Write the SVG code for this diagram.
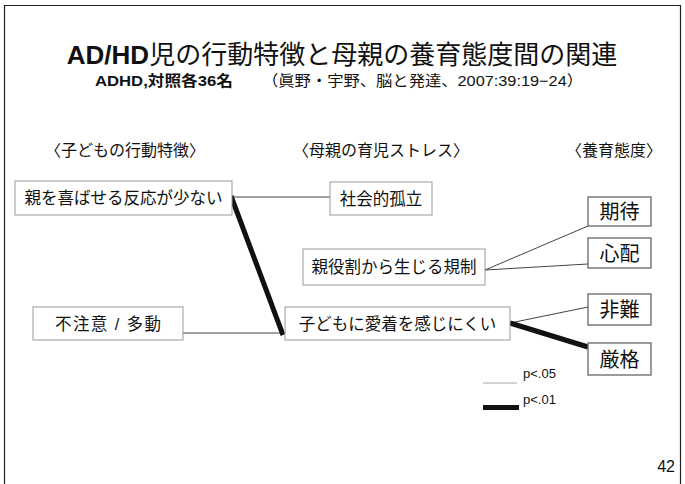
<svg xmlns="http://www.w3.org/2000/svg" width="685" height="484" viewBox="0 0 685 484">
<style>
text{font-family:"Liberation Sans","Noto Sans CJK JP",sans-serif;fill:#111}
.box{fill:#fff;stroke:#999;stroke-width:1}
.box2{fill:#fff;stroke:#666;stroke-width:1.3}
.lbl{font-size:16.5px;text-anchor:middle}
.lbl2{font-size:20px;text-anchor:middle}
.hdr{font-size:16px}
.thin{stroke:#444;stroke-width:1;fill:none}
.thick{stroke:#111;stroke-width:5;fill:none}
</style>
<rect width="685" height="484" fill="#fff"/>
<path d="M4.5,490 V5.5 H680.5 V490" fill="none" stroke="#222" stroke-width="1.2"/>
<g id="title">
<text x="342" y="64" font-size="26" text-anchor="middle"><tspan font-weight="bold">AD/HD</tspan>児の行動特徴と母親の養育態度間の関連</text>
<text x="95" y="86" font-size="15" font-weight="bold" textLength="138" lengthAdjust="spacingAndGlyphs">ADHD,対照各36名</text>
<text x="262" y="86" font-size="15" textLength="321" lengthAdjust="spacingAndGlyphs">（眞野・宇野、脳と発達、2007:39:19−24）</text>
</g>
<g id="headers">
<text class="hdr" x="45" y="156">〈子どもの行動特徴〉</text>
<text class="hdr" x="293" y="156">〈母親の育児ストレス〉</text>
<text class="hdr" x="566" y="156">〈養育態度〉</text>
</g>
<g id="connectors">
<line class="thin" x1="232" y1="197" x2="330" y2="197"/>
<line class="thin" x1="183" y1="333" x2="285" y2="333"/>
<line class="thin" x1="485" y1="270" x2="588" y2="226"/>
<line class="thin" x1="485" y1="270" x2="588" y2="264"/>
<line class="thin" x1="510" y1="323" x2="588" y2="307"/>
<line class="thick" x1="231" y1="196" x2="283" y2="335"/>
<line class="thick" x1="510" y1="323" x2="588" y2="347"/>
</g>
<g id="n1"><rect class="box" x="15" y="181" width="217" height="34"/><text class="lbl" x="123.5" y="204">親を喜ばせる反応が少ない</text></g>
<g id="n2"><rect class="box" x="33" y="307" width="150" height="33"/><text class="lbl" x="108" y="330" textLength="106" lengthAdjust="spacing">不注意 / 多動</text></g>
<g id="n3"><rect class="box" x="330" y="182" width="102" height="33"/><text class="lbl" x="381" y="205">社会的孤立</text></g>
<g id="n4"><rect class="box" x="303" y="249" width="182" height="36"/><text class="lbl" x="394" y="273">親役割から生じる規制</text></g>
<g id="n5"><rect class="box" x="285" y="307" width="225" height="33"/><text class="lbl" x="397.5" y="330">子どもに愛着を感じにくい</text></g>
<g id="n6"><rect class="box2" x="588" y="197" width="63" height="29"/><text class="lbl2" x="619.5" y="219">期待</text></g>
<g id="n7"><rect class="box2" x="588" y="238" width="63" height="30"/><text class="lbl2" x="619.5" y="261">心配</text></g>
<g id="n8"><rect class="box2" x="588" y="294" width="63" height="31"/><text class="lbl2" x="619.5" y="317">非難</text></g>
<g id="n9"><rect class="box2" x="588" y="343" width="63" height="32"/><text class="lbl2" x="619.5" y="367">厳格</text></g>
<g id="legend">
<line x1="483" y1="383" x2="517" y2="383" stroke="#aaa" stroke-width="1"/>
<line x1="483" y1="407.5" x2="519" y2="407.5" stroke="#111" stroke-width="5"/>
<text x="523" y="378" font-size="13">p&lt;.05</text>
<text x="523" y="404" font-size="13">p&lt;.01</text>
</g>
<text x="675" y="472" font-size="16" text-anchor="end">42</text>
</svg>
